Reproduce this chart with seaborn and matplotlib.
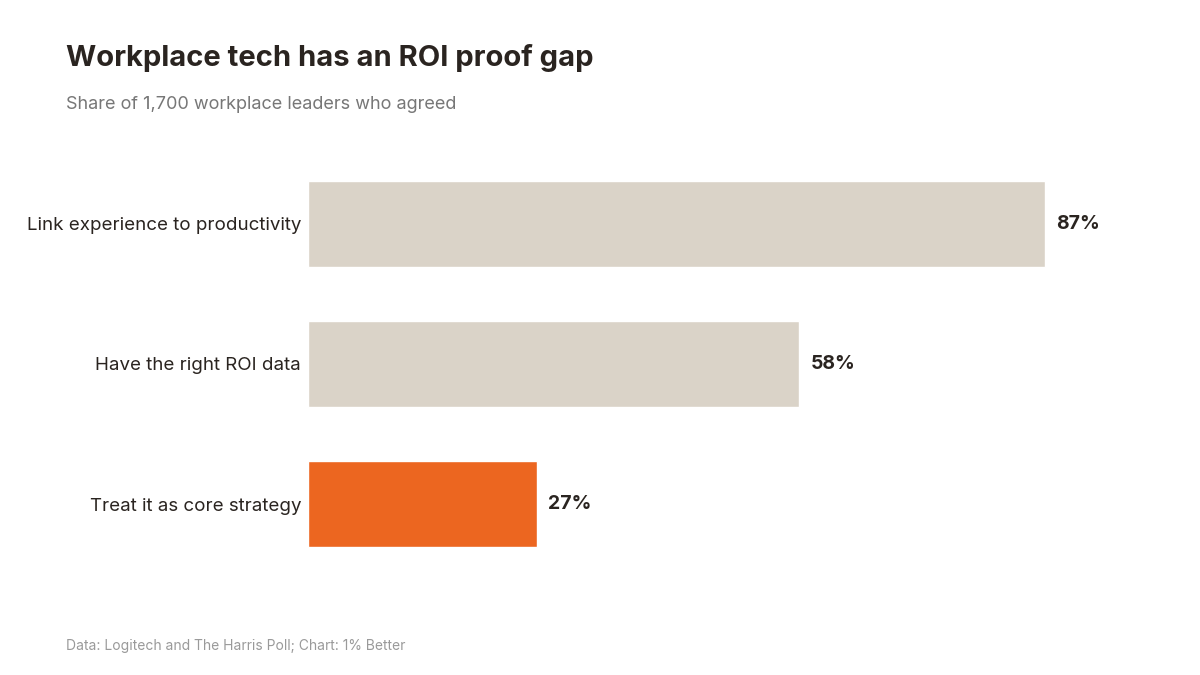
import matplotlib
matplotlib.use("Agg")
import matplotlib.pyplot as plt
import seaborn as sns
import pandas as pd

categories = ["Link experience to productivity", "Have the right ROI data", "Treat it as core strategy"]
values = [87, 58, 27]
bar_colors = ["#DAD3C8", "#DAD3C8", "#EC6620"]

sns.set_style("white")
plt.rcParams['font.family'] = ['Inter', 'DejaVu Sans']

df = pd.DataFrame({"label": categories, "value": values})

fig = plt.figure(figsize=(12, 6.75), dpi=100)
ax = fig.add_axes([0.2567, 0.1496, 0.7058, 0.6223])
sns.barplot(data=df, x="value", y="label", hue="label", palette=bar_colors,
            width=0.62, legend=False, ax=ax, saturation=1)
ax.set_xlim(0, 100)
ax.set_ylim(2.5, -0.5)
ax.set_xlabel("")
ax.set_ylabel("")
ax.set_xticks([])
ax.tick_params(axis="y", length=0, pad=5, labelsize=13.5, labelcolor="#2a2420")
for s in ax.spines.values():
  s.set_visible(False)
for i, v in enumerate(values):
  ax.text(v + 1.3, i, f"{v}%", va="center", ha="left", fontsize=14,
          fontweight="bold", color="#2a2420")

fig.text(0.055, 0.914, "Workplace tech has an ROI proof gap", fontsize=21,
         fontweight="bold", color="#2a2420", va="center")
fig.text(0.055, 0.845, "Share of 1,700 workplace leaders who agreed", fontsize=13,
         color="#777777", va="center")
fig.text(0.055, 0.043, "Data: Logitech and The Harris Poll; Chart: 1% Better", fontsize=10,
         color="#9a9a9a", va="center")

fig.savefig("out.png", dpi=100)
plt.close()
